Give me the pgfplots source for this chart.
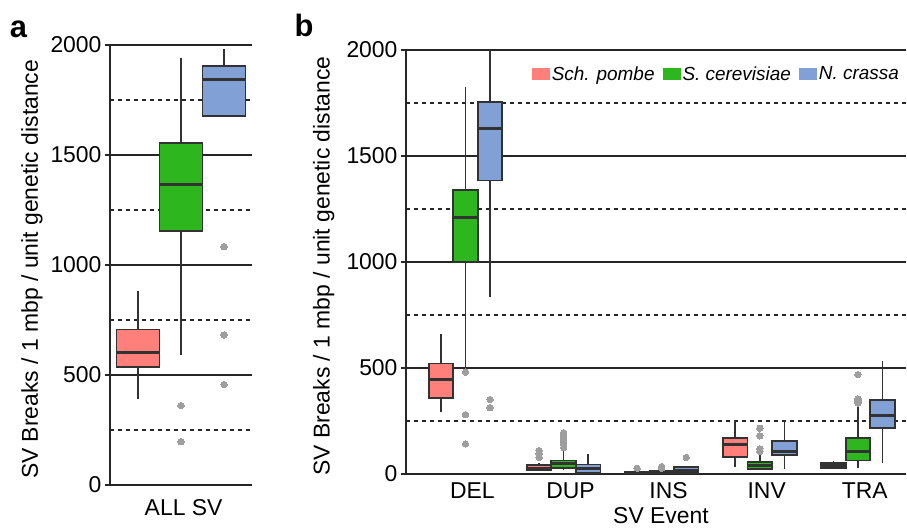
\documentclass[border=0pt]{standalone}
\usepackage{pgfplots}
\pgfplotsset{compat=1.18}
\usepgfplotslibrary{statistics}
\usepackage{fontspec}
\setmainfont{Liberation Sans}
\definecolor{redc}{RGB}{255,128,122}
\definecolor{greenc}{RGB}{46,182,30}
\definecolor{bluec}{RGB}{128,160,214}
\definecolor{edge}{RGB}{50,50,50}
\definecolor{outc}{RGB}{158,158,158}
\pgfplotsset{
  sqlegend/.style={legend image code/.code={\fill[##1, draw=none] (0bp,-6bp) rectangle (18bp,6bp);}},
  common/.style={
    scale only axis,
    axis x line*=bottom, axis y line*=left,
    ymin=0, ymax=2000,
    ytick={0,500,1000,1500,2000},
    minor ytick={250,750,1250,1750},
    ymajorgrids, yminorgrids,
    major grid style={draw=black!85, line width=1.2bp},
    minor grid style={draw=black!85, line width=1.2bp, dash pattern=on 4bp off 4bp},
    axis line style={draw=black!85, line width=1.5bp},
    tick align=outside,
    major tick length=5bp, minor tick length=0pt,
    ytick style={draw=black!85, line width=1.5bp},
    xtick style={draw=none},
    /pgf/number format/1000 sep={},
    /pgf/number format/assume math mode=true,
    ticklabel style={font=\fontsize{23}{27}\selectfont},
    label style={font=\fontsize{23}{27}\selectfont},
    boxplot/draw direction=y,
    boxplot/whisker extend=0,
    boxplot/every box/.style={draw=edge, line width=1.8bp},
    boxplot/every whisker/.style={draw=edge, line width=1.7bp},
    boxplot/every median/.style={draw=edge, line width=3bp},
  },
  bx/.style={draw=edge, line width=1.8bp, fill=#1, mark=*, mark size=3.2bp, mark options={fill=outc, draw=outc, line width=0pt}, forget plot},
}
% box with outliers: color, pos, lw, lq, med, uq, uw, outliers
\newcommand{\bpo}[8]{\addplot[bx=#1, boxplot prepared={draw position=#2, lower whisker=#3, lower quartile=#4, median=#5, upper quartile=#6, upper whisker=#7}] table[row sep=\\, y index=0]{d\\ #8};}
% box without outliers
\newcommand{\bpn}[7]{\addplot[bx=#1, boxplot prepared={draw position=#2, lower whisker=#3, lower quartile=#4, median=#5, upper quartile=#6, upper whisker=#7}] coordinates {};}
\begin{document}
\begin{tikzpicture}
\useasboundingbox (0,0) rectangle (907bp,528bp);
% panel a
\begin{axis}[common, at={(110bp,43bp)}, anchor=south west, width=142bp, height=440bp,
  xmin=-1.65, xmax=1.65, xtick={0.06}, xticklabels={ALL SV}, boxplot/box extend=1,
  xticklabel style={yshift=-6bp},
  ylabel={SV Breaks / 1 mbp / unit genetic distance},
  ylabel style={at={(axis description cs:-0.549,0.49)}, anchor=center}]
\bpn{redc}{-1}{393}{537}{600}{707}{883}
\bpo{greenc}{0}{589}{1154}{1367}{1555}{1943}{361\\ 197\\}
\bpo{bluec}{1}{1677}{1677}{1843}{1905}{1982}{1083\\ 682\\ 457\\}
\end{axis}
% panel b
\begin{axis}[common, at={(406bp,54bp)}, anchor=south west, width=500bp, height=424bp,
  xmin=0.3935, xmax=5.49, xtick={1.07,2.07,3.07,4.07,5.07}, xticklabels={DEL,DUP,INS,INV,TRA},
  boxplot/box extend=0.25,
  xlabel={SV Event}, xlabel style={at={(axis description cs:0.51,0)}, anchor=center, yshift=-42bp},
  ylabel={SV Breaks / 1 mbp / unit genetic distance},
  ylabel style={at={(axis description cs:-0.1648,0.49)}, anchor=center},
  legend style={draw=none, fill=none, legend columns=3, at={(0.99,0.943)}, anchor=east,
    font=\fontsize{19}{22}\selectfont\itshape, inner sep=0pt,
    /tikz/every even column/.append style={column sep=6bp}},
  legend cell align=left]
\addlegendimage{sqlegend, fill=redc}
\addlegendentry{Sch. pombe}
\addlegendimage{sqlegend, fill=greenc}
\addlegendentry{S. cerevisiae}
\addlegendimage{sqlegend, fill=bluec}
\addlegendentry{N. crassa}
% DEL
\bpn{redc}{0.75}{291}{359}{445}{521}{660}
\bpo{greenc}{1}{500}{1001}{1212}{1338}{1826}{481\\ 280\\ 142\\}
\bpo{bluec}{1.25}{837}{1384}{1628}{1755}{2000}{351\\ 313\\}
% DUP
\bpo{redc}{1.75}{13}{18}{27}{42}{52}{78\\ 95\\ 110\\}
\bpo{greenc}{2}{19}{28}{50}{64}{113}{125\\ 140\\ 155\\ 170\\ 185\\ 195\\}
\bpn{bluec}{2.25}{2}{5}{28}{45}{92}
% INS
\bpo{redc}{2.75}{2}{3}{7}{12}{18}{27\\}
\bpo{greenc}{3}{2}{4}{9}{15}{22}{27\\ 35\\}
\bpo{bluec}{3.25}{1}{6}{15}{32}{40}{78\\}
% INV
\bpn{redc}{3.75}{33}{80}{138}{168}{255}
\bpo{greenc}{4}{22}{25}{41}{56}{88}{107\\ 119\\ 180\\ 216\\}
\bpn{bluec}{4.25}{22}{90}{108}{157}{250}
% TRA
\bpn{redc}{4.75}{28}{28}{41}{53}{60}
\bpo{greenc}{5}{28}{64}{107}{169}{323}{335\\ 345\\ 354\\ 469\\}
\bpn{bluec}{5.25}{53}{218}{274}{348}{533}
\end{axis}
\node[font=\fontsize{31}{31}\selectfont\bfseries] at (18.5bp,499bp) {a};
\node[font=\fontsize{31}{31}\selectfont\bfseries] at (304bp,503bp) {b};
\end{tikzpicture}
\end{document}
